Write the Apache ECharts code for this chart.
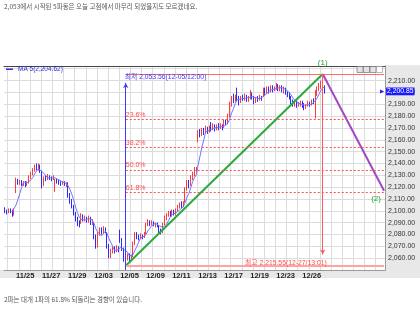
<!DOCTYPE html>
<html><head><meta charset="utf-8">
<script src="https://cdn.jsdelivr.net/npm/echarts@6/dist/echarts.min.js"></script>
<style>html,body{margin:0;padding:0;background:#fff}#c{width:420px;height:311px}</style>
</head><body><div id="c"></div>
<script>
// ---------- data ----------
const days = ['11/22','11/25','11/26','11/27','11/28','11/29','12/02','12/03','12/04','12/05','12/06','12/09','12/10','12/11','12/12','12/13','12/16','12/17','12/18','12/19','12/20','12/23','12/24','12/26','12/27'];
const sessionHours = ['09','10','11','12','13','14','15'];
const firstDayHours = ['10','11','12','13','14','15'];
const futureSlotCount = 31;
const xLabelDays = ['11/25','11/27','11/29','12/03','12/05','12/09','12/11','12/13','12/17','12/19','12/23','12/26'];

// hourly candles: [open, close, low, high]
const candles = [
// 11/22
[2101,2100,2098,2103],[2100,2099,2097,2101],[2099,2101,2098,2102],[2101,2100,2098,2102],[2100,2097,2095,2101],[2097,2101,2096,2102],
// 11/25
[2116,2126,2115,2128],[2126,2124,2122,2127],[2124,2125,2122,2126],[2125,2123,2121,2126],[2123,2124,2121,2125],[2124,2122,2120,2125],[2122,2124,2121,2125],
// 11/26
[2125,2129,2123,2130],[2129,2132,2127,2133],[2132,2134,2130,2136],[2134,2137,2133,2139],[2137,2136,2134,2140],[2136,2138,2134,2140],[2138,2133,2132,2139],
// 11/27
[2133,2122,2119,2134],[2122,2128,2121,2129],[2128,2127,2125,2130],[2127,2129,2126,2131],[2129,2128,2126,2130],[2128,2127,2125,2129],[2127,2129,2126,2130],
// 11/28
[2117,2126,2116,2127],[2126,2125,2123,2127],[2125,2124,2122,2126],[2124,2123,2121,2125],[2123,2124,2122,2125],[2124,2122,2121,2125],[2122,2123,2120,2124],
// 11/29
[2122,2113,2111,2124],[2113,2108,2106,2115],[2108,2104,2102,2110],[2104,2098,2096,2105],[2098,2093,2091,2099],[2093,2090,2087,2095],[2090,2088,2086,2092],
// 12/02
[2090,2095,2089,2098],[2095,2093,2091,2097],[2093,2094,2091,2096],[2094,2092,2090,2095],[2092,2094,2090,2096],[2094,2090,2088,2095],[2090,2091,2088,2093],
// 12/03
[2088,2078,2076,2090],[2078,2070,2068,2080],[2070,2080,2069,2082],[2080,2084,2079,2086],[2084,2082,2080,2086],[2082,2085,2081,2087],[2085,2083,2081,2086],
// 12/04
[2080,2070,2068,2082],[2070,2062,2060,2072],[2062,2066,2060,2068],[2066,2068,2064,2070],[2068,2066,2064,2070],[2066,2069,2065,2071],[2069,2067,2065,2070],
// 12/05
[2080,2075,2073,2084],[2075,2068,2066,2077],[2068,2059,2057,2069],[2059,2061,2053.56,2063],[2061,2062,2058,2064],[2062,2059,2057,2064],[2059,2061,2058,2063],
// 12/06
[2062,2072,2061,2074],[2072,2080,2071,2082],[2080,2078,2076,2082],[2078,2077,2075,2080],[2077,2079,2076,2081],[2079,2078,2076,2080],[2078,2080,2077,2082],
// 12/09
[2081,2088,2080,2090],[2088,2091,2087,2093],[2091,2089,2087,2092],[2089,2090,2088,2092],[2090,2088,2087,2091],[2088,2089,2086,2090],[2089,2087,2086,2090],
// 12/10
[2087,2083,2081,2088],[2083,2082,2080,2085],[2082,2089,2081,2090],[2089,2094,2088,2096],[2094,2096,2092,2098],[2096,2098,2095,2100],[2098,2097,2095,2100],
// 12/11
[2097,2099,2095,2101],[2099,2097,2096,2101],[2097,2100,2096,2102],[2100,2103,2099,2105],[2103,2105,2102,2107],[2105,2104,2102,2108],[2104,2106,2103,2108],
// 12/12
[2108,2118,2107,2120],[2118,2124,2117,2126],[2124,2122,2119,2126],[2122,2128,2121,2130],[2128,2131,2126,2133],[2131,2135,2129,2137],[2135,2136,2133,2137],
// 12/13
[2160,2166,2158,2168],[2166,2164,2162,2169],[2164,2168,2163,2170],[2168,2166,2164,2170],[2166,2169,2165,2172],[2169,2167,2165,2171],[2167,2170,2166,2172],
// 12/16
[2172,2170,2167,2175],[2170,2172,2168,2174],[2172,2169,2167,2173],[2169,2171,2168,2173],[2171,2170,2168,2174],[2170,2172,2169,2174],[2172,2170,2168,2173],
// 12/17
[2172,2175,2170,2177],[2175,2174,2172,2177],[2174,2180,2173,2182],[2180,2190,2179,2192],[2190,2195,2188,2197],[2195,2193,2191,2199],[2193,2196,2192,2198],
// 12/18
[2198,2195,2193,2204],[2195,2192,2189,2197],[2192,2196,2191,2197],[2196,2195,2193,2198],[2195,2197,2193,2199],[2197,2194,2192,2198],[2194,2196,2192,2197],
// 12/19
[2196,2199,2194,2202],[2199,2196,2194,2200],[2196,2192,2190,2197],[2192,2195,2191,2196],[2195,2194,2192,2197],[2194,2196,2193,2198],[2196,2195,2193,2197],
// 12/20
[2197,2202,2196,2204],[2202,2200,2198,2204],[2200,2203,2199,2205],[2203,2201,2199,2205],[2201,2204,2200,2206],[2204,2202,2200,2206],[2202,2204,2201,2205],
// 12/23
[2204,2206,2202,2208],[2206,2203,2201,2207],[2203,2205,2201,2206],[2205,2202,2200,2206],[2202,2203,2199,2205],[2203,2200,2198,2204],[2200,2198,2196,2201],
// 12/24
[2198,2196,2194,2200],[2196,2192,2190,2197],[2192,2190,2188,2194],[2190,2191,2188,2193],[2191,2189,2187,2193],[2189,2190,2188,2192],[2190,2191,2188,2193],
// 12/26
[2191,2189,2187,2193],[2189,2187,2185,2191],[2187,2189,2186,2190],[2189,2191,2188,2193],[2191,2190,2188,2192],[2190,2193,2189,2194],[2193,2192,2190,2195],
// 12/27
[2192,2199,2178,2202],[2199,2203,2197,2205],[2203,2206,2201,2208],[2206,2208,2203,2210],[2208,2204,2202,2215.55],[2204,2200.85,2199,2206]
];

const maPeriod = 5;
const maName = 'MA 5(2,204.62)';
const lastPrice = 2200.85;
const lowValue = 2053.56, lowCat = '12/05 12';
const highValue = 2215.55, highCat = '12/27 13';
const wave2EndValue = 2117;
const fibRatios = [0.236, 0.382, 0.5, 0.618];
const fibLabels = ['23.6%', '38.2%', '50.0%', '61.8%'];
const yTicks = [2060, 2070, 2080, 2090, 2100, 2110, 2120, 2130, 2140, 2150, 2160, 2170, 2180, 2190, 2200, 2210];
const titleText = '2,053에서 시작된 5파동은 오늘 고점에서 마무리 되었을지도 모르겠네요.';
const noteText = '2파는 대개 1파의 61.8% 되돌리는 경향이 있습니다.';
const lowLabel = '최저 2,053.56(12-05/12:00)';
const highLabel = '최고 2,215.55(12-27/13:01)';

// ---------- build ----------
const categories = [];
days.forEach((d, i) => (i === 0 ? firstDayHours : sessionHours).forEach(h => categories.push(d + ' ' + h)));
for (let k = 1; k <= futureSlotCount; k++) categories.push('+' + k);
const lastCat = categories[categories.length - 1];

const kData = categories.map((c, i) => candles[i] ? candles[i] : '-');
const maData = categories.map((c, i) => {
  if (!candles[i] || i < maPeriod - 1) return '-';
  let s = 0; for (let j = i - maPeriod + 1; j <= i; j++) s += candles[j][1];
  return +(s / maPeriod).toFixed(2);
});
const fibValues = fibRatios.map(r => highValue - r * (highValue - lowValue));

const fmt = v => v.toFixed(2).replace(/\B(?=(\d{3})+(?!\d))/g, ',');
const FONT = "'Liberation Sans', 'Noto Sans CJK KR', sans-serif";
const KFONT = "'Noto Sans CJK KR', 'Liberation Sans', sans-serif";

const fibMarkLines = fibValues.map((v, i) => [
  { coord: [lowCat, v], lineStyle: { color: '#ff4d4d', width: 1, type: [2, 2] },
    label: { show: true, position: 'insideStartTop', formatter: fibLabels[i], color: '#ff4d4d', fontSize: 7, fontFamily: FONT, distance: [0, 1] } },
  { coord: [lastCat, v] }
]);

const chart = echarts.init(document.getElementById('c'), null, { renderer: 'canvas' });
const option = {
  animation: false,
  backgroundColor: '#ffffff',
  textStyle: { fontFamily: FONT },
  title: [
    { text: titleText, left: 4, top: 3, padding: 0, textStyle: { fontSize: 6.5, fontWeight: 'normal', color: '#555', fontFamily: KFONT } },
    { text: noteText, left: 4, top: 296, padding: 0, textStyle: { fontSize: 6.5, fontWeight: 'normal', color: '#555', fontFamily: KFONT } }
  ],
  legend: {
    data: [maName], left: 6, top: 66, padding: 0, icon: 'rect', itemWidth: 7, itemHeight: 1.5,
    textStyle: { fontSize: 6.5, color: '#2f2fd0', fontFamily: FONT }
  },
  grid: { left: 4, right: 35, top: 66, bottom: 41 },
  xAxis: [{
    type: 'category', data: categories, boundaryGap: true,
    axisLine: { lineStyle: { color: '#999' } },
    axisTick: { show: false },
    axisLabel: {
      interval: (idx, val) => { const p = val.split(' '); return p[1] === '09' && xLabelDays.indexOf(p[0]) >= 0; },
      formatter: val => val.split(' ')[0], align: 'left', margin: 2,
      fontSize: 7.5, fontWeight: 'bold', color: '#222', fontFamily: FONT
    },
    splitLine: { show: true, interval: idx => idx % 6 === 2, lineStyle: { color: '#dcdcdc', width: 1 } }
  }, {
    type: 'category', data: categories, position: 'top',
    axisLine: { show: true, lineStyle: { color: '#444' } },
    axisTick: { show: false }, axisLabel: { show: false }, splitLine: { show: false }
  }],
  yAxis: {
    type: 'value', position: 'right', min: 2050, max: 2222.3, interval: 10, scale: true,
    axisLine: { show: true, lineStyle: { color: '#999' } },
    axisTick: { show: false },
    axisLabel: {
      margin: 3, fontSize: 7, color: '#333', fontFamily: FONT,
      formatter: v => yTicks.some(t => Math.abs(t - v) < 1e-6) ? fmt(v) : ''
    },
    splitLine: { show: true, lineStyle: { color: '#dcdcdc', width: 1 } }
  },
  graphic: [
    { type: 'rect', z: -10, shape: { x: 385, y: 65, width: 35, height: 213 }, style: { fill: '#e8e8e8' } },
    { type: 'rect', z: -10, shape: { x: 0, y: 270, width: 385, height: 8 }, style: { fill: '#e8e8e8' } },
    { type: 'rect', z: 50, shape: { x: 357, y: 66.5, width: 6, height: 6 }, style: { fill: '#e4e4e4', stroke: '#777', lineWidth: 0.7 } },
    { type: 'rect', z: 50, shape: { x: 363.5, y: 66.5, width: 6, height: 6 }, style: { fill: '#e4e4e4', stroke: '#777', lineWidth: 0.7 } },
    { type: 'rect', z: 50, shape: { x: 370, y: 66.5, width: 6, height: 6 }, style: { fill: '#e4e4e4', stroke: '#777', lineWidth: 0.7 } },
    { type: 'rect', z: 50, shape: { x: 376.5, y: 66.5, width: 6, height: 6 }, style: { fill: '#ffffff', stroke: '#999', lineWidth: 0.7 } }
  ],
  series: [
    {
      name: 'K', type: 'candlestick', data: kData, barWidth: 1,
      itemStyle: { color: '#ff3a3a', color0: '#2a2aff', borderColor: '#ff3a3a', borderColor0: '#2a2aff', borderWidth: 1 }
    },
    {
      name: maName, type: 'line', data: maData, showSymbol: false, symbol: 'none',
      lineStyle: { color: '#7272ff', width: 1 }, itemStyle: { color: '#2f2fd0' }, z: 3
    },
    {
      name: 'wave1', type: 'line', data: [[lowCat, lowValue], [highCat, highValue]], symbol: 'none',
      lineStyle: { color: '#28aa3c', width: 2 }, z: 4,
      markLine: {
        silent: true, symbol: ['none', 'none'], animation: false,
        data: [
          [{ coord: [lowCat, highValue], lineStyle: { color: '#ff6a6a', width: 1, type: 'solid' }, label: { show: false } }, { coord: [lastCat, highValue] }],
          [{ coord: [lowCat, lowValue], lineStyle: { color: '#ffa3a3', width: 2, type: 'solid' }, label: { show: false } }, { coord: [lastCat, lowValue] }],
          ...fibMarkLines,
          [{ coord: [lowCat, 2050], symbol: 'none', lineStyle: { color: '#3b3bff', width: 1, type: 'solid' }, label: { show: false } },
           { coord: [lowCat, 2208], symbol: 'arrow', symbolSize: [4, 5] }],
          [{ coord: [highCat, highValue], symbol: 'none', lineStyle: { color: '#ff5a5a', width: 1, type: 'solid' }, label: { show: false } },
           { coord: [highCat, 2063], symbol: 'arrow', symbolSize: [4, 5] }]
        ]
      },
      markPoint: {
        silent: true, animation: false, symbol: 'circle', symbolSize: 1, itemStyle: { color: 'rgba(0,0,0,0)' },
        data: [
          { coord: [lowCat, highValue], label: { show: true, position: 'inside', align: 'left', verticalAlign: 'middle', offset: [-1, 3.5], formatter: lowLabel, color: '#3b3bff', fontSize: 6.8, fontFamily: FONT } },
          { coord: [highCat, lowValue], label: { show: true, position: 'inside', align: 'right', verticalAlign: 'middle', offset: [4, -3], formatter: highLabel, color: '#ff4a4a', fontSize: 6.8, fontFamily: FONT } },
          { coord: [highCat, highValue], label: { show: true, position: 'inside', align: 'center', verticalAlign: 'middle', offset: [0, -11], formatter: '(1)', color: '#22a033', fontSize: 8, fontFamily: FONT } },
          { coord: [lastCat, wave2EndValue], label: { show: true, position: 'inside', align: 'center', verticalAlign: 'middle', offset: [-8, 8], formatter: '(2)', color: '#22a033', fontSize: 8, fontFamily: FONT } },
          { coord: [lastCat, lastPrice], symbol: 'triangle', symbolSize: [4, 4], symbolRotate: -90, symbolOffset: [-2, 0], itemStyle: { color: '#1a1aff' },
            label: { show: true, position: 'inside', align: 'left', verticalAlign: 'middle', offset: [4, 0], formatter: fmt(lastPrice), color: '#ffffff', backgroundColor: '#1a1aff', padding: [1, 1, 0, 1], fontSize: 6.8, fontFamily: FONT } }
        ]
      }
    },
    {
      name: 'wave2', type: 'line', data: [[highCat, highValue], [lastCat, wave2EndValue]], symbol: 'none',
      lineStyle: { color: '#a447c4', width: 2 }, z: 4
    }
  ]
};
chart.setOption(option);
</script>
</body></html>
